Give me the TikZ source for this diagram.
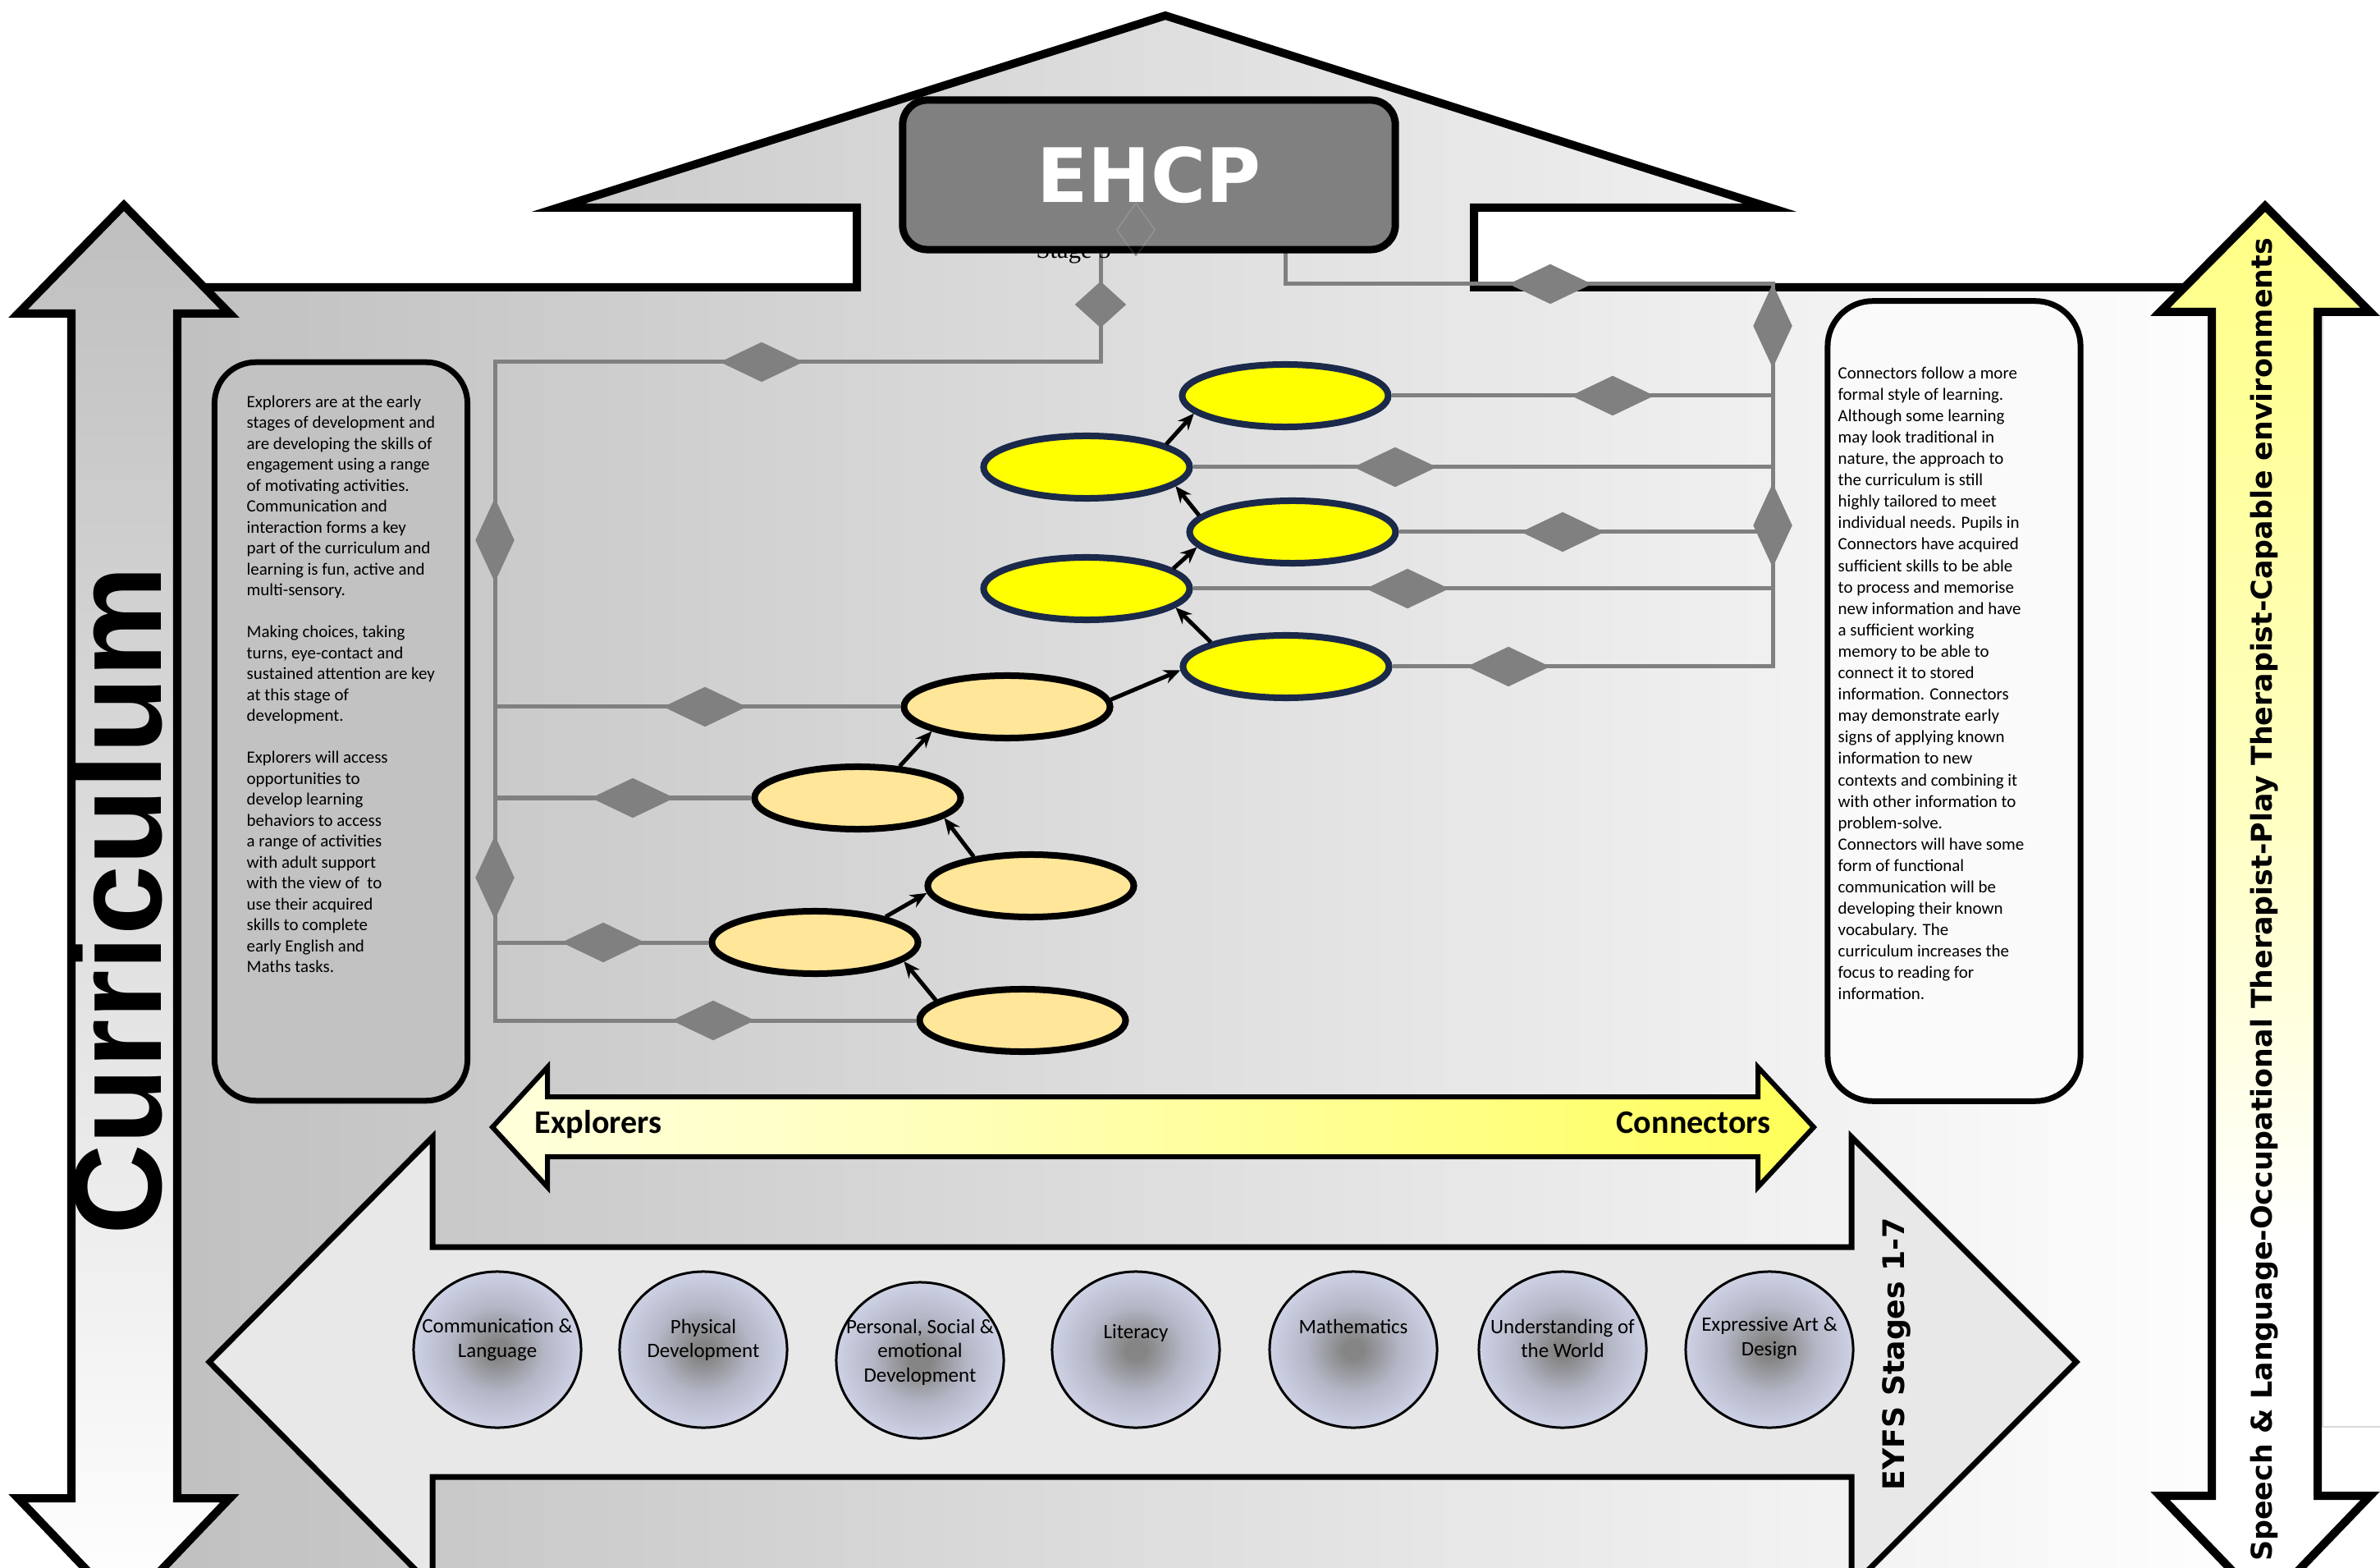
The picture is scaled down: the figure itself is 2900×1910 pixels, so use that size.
\documentclass[tikz,border=0pt]{standalone}
\usepackage{fontspec}
\usetikzlibrary{shapes.geometric,arrows.meta}
\newfontfamily\carl{Carlito}
\newfontfamily\dejavu{DejaVu Sans}
\newfontfamily\libsans{Liberation Sans}
\newfontfamily\libserif{Liberation Serif}
\definecolor{yel}{rgb}{1,1,0}
\definecolor{hgray}{HTML}{BFBFBF}
\definecolor{busgray}{HTML}{808080}
\definecolor{peach}{HTML}{FFE699}
\definecolor{navy}{HTML}{1B2A4A}
\definecolor{orbc}{HTML}{858585}
\definecolor{orbm}{HTML}{B4B7C6}
\definecolor{orbe}{HTML}{D2D6EA}
\definecolor{eyl}{HTML}{E8E8E8}
\definecolor{eym}{HTML}{BDBDBD}
\definecolor{lboxc}{HTML}{C2C2C2}
\definecolor{rboxc}{HTML}{FAFAFA}
\definecolor{ehcpc}{HTML}{808080}
\definecolor{yAA}{rgb}{1,1,0.78}
\definecolor{yBB}{rgb}{1,1,0.5}
\definecolor{yCC}{rgb}{1,1,0.15}
\definecolor{hAA}{rgb}{1,1,0.75}
\definecolor{hCC}{rgb}{1,1,0.22}
\pgfdeclareverticalshading{yelv}{100bp}{color(0bp)=(white); color(38bp)=(white); color(52bp)=(yAA); color(77bp)=(yBB); color(92bp)=(yCC); color(100bp)=(yel)}
\pgfdeclarehorizontalshading{yelh}{100bp}{color(0bp)=(white); color(6bp)=(white); color(40bp)=(hAA); color(63bp)=(yBB); color(85bp)=(hCC); color(100bp)=(yel)}
\pgfdeclareradialshading{orbsh}{\pgfpoint{0bp}{0bp}}{color(0bp)=(orbc); color(3bp)=(orbc); color(14bp)=(orbm); color(27bp)=(orbe); color(50bp)=(orbe)}
\tikzset{
  bus/.style={draw=busgray, line width=0.05cm},
  hd/.style={diamond, fill=busgray, inner sep=0pt, minimum width=1.02cm, minimum height=0.49cm},
  vd/.style={diamond, fill=busgray, inner sep=0pt, minimum width=0.48cm, minimum height=1.03cm},
  pe/.style={ellipse, draw=black, fill=peach, line width=0.08cm, inner sep=0pt, minimum width=2.51cm, minimum height=0.76cm},
  ye/.style={ellipse, draw=navy, fill=yel, line width=0.08cm, inner sep=0pt, minimum width=2.51cm, minimum height=0.76cm},
  arr/.style={draw=black, line width=0.05cm, -{Stealth[length=0.2cm, width=0.17cm]}},
  orb/.style={ellipse, draw=black, line width=0.03cm, shade, shading=orbsh, inner sep=0pt, minimum width=2.04cm, minimum height=1.9cm},
  orbtxt/.style={font=\carl\fontsize{7.1}{8.4}\selectfont, align=center, anchor=north, inner sep=0pt},
  ltxt/.style={font=\carl\fontsize{5.95}{7.25}\selectfont, align=left, anchor=north west, inner sep=0pt},
  rtxt/.style={font=\carl\fontsize{5.95}{7.42}\selectfont, align=left, anchor=north west, inner sep=0pt},
  vtext/.style={rotate=90, anchor=base, inner sep=0pt},
}
\begin{document}
\begin{tikzpicture}[x=0.01cm, y=-0.01cm]
\useasboundingbox (0,0) rectangle (2900,1910);
\clip (0,0) rectangle (2900,1910);

% house
\shadedraw[left color=hgray, right color=white, draw=black, line width=0.1cm, line join=miter]
  (150,350) -- (1044,350) -- (1044,253) -- (680,253) -- (1420,19) -- (2157,253) -- (1796,253)
  -- (1796,350) -- (2760,350) -- (2760,2000) -- (150,2000) -- cycle;
\draw[black!15, line width=0.02cm] (2830,385) -- (2830,1738) -- (2900,1738);

% EYFS double arrow
\shadedraw[left color=eyl, middle color=eym, right color=eyl, draw=black, line width=0.07cm, line join=miter]
  (255,1659) -- (527,1385) -- (527,1519) -- (2256,1519) -- (2256,1385) -- (2530,1659)
  -- (2256,1933) -- (2256,1799) -- (527,1799) -- (527,1933) -- cycle;

\node[orb] (o1) at (606,1644) {};
\node[orb] (o2) at (857,1644) {};
\node[orb] (o3) at (1121,1657) {};
\node[orb] (o4) at (1384,1644) {};
\node[orb] (o5) at (1649,1644) {};
\node[orb] (o6) at (1904,1644) {};
\node[orb] (o7) at (2156,1644) {};
\node[orbtxt] (t1) at (606,1606) {Communication \&\\Language};
\node[orbtxt] (t2) at (857,1606) {Physical\\Development};
\node[orbtxt] (t3) at (1121,1606) {Personal, Social \&\\emotional\\Development};
\node[orbtxt] (t4) at (1384,1613) {Literacy};
\node[orbtxt] (t5) at (1649,1606) {Mathematics};
\node[orbtxt] (t6) at (1904,1606) {Understanding of\\the World};
\node[orbtxt] (t7) at (2156,1604) {Expressive Art \&\\Design};
\node[vtext, font=\dejavu\bfseries\fontsize{10.3}{12}\selectfont] (eyfs) at (2320,1649) {EYFS Stages 1-7};

% Explorers / Connectors arrow
\shadedraw[shading=yelh, draw=black, line width=0.06cm, line join=miter]
  (600,1373) -- (667,1300) -- (667,1336) -- (2142,1336) -- (2142,1300) -- (2210,1373)
  -- (2142,1446) -- (2142,1409) -- (667,1409) -- (667,1446) -- cycle;
\node[font=\carl\bfseries\fontsize{11.4}{13}\selectfont, anchor=base west, inner sep=0pt] (expl) at (651,1380) {Explorers};
\node[font=\carl\bfseries\fontsize{11.4}{13}\selectfont, anchor=base east, inner sep=0pt] (conn) at (2158,1380) {Connectors};

% text boxes
\node[draw=black, fill=lboxc, rounded corners=0.5cm, line width=0.07cm, minimum width=3.08cm, minimum height=8.99cm, inner sep=0pt] (lbox) at (415.5,891) {};
\node[ltxt] (ltext) at (300,481) {Explorers are at the early\\stages of development and\\are developing the skills of\\engagement using a range\\of motivating activities.\\Communication and\\interaction forms a key\\part of the curriculum and\\learning is fun, active and\\multi-sensory.\\[7.25pt]Making choices, taking\\turns, eye-contact and\\sustained attention are key\\at this stage of\\development.\\[7.25pt]Explorers will access\\opportunities to\\develop learning\\behaviors to access\\a range of activities\\with adult support\\with the view of~ to\\use their acquired\\skills to complete\\early English and\\Maths tasks.};
\node[draw=black, fill=rboxc, rounded corners=0.55cm, line width=0.07cm, minimum width=3.08cm, minimum height=9.74cm, inner sep=0pt] (rbox) at (2381,854) {};
\node[rtxt] (rtext) at (2239,446) {Connectors follow a more\\formal style of learning.\\Although some learning\\may look traditional in\\nature, the approach to\\the curriculum is still\\highly tailored to meet\\individual needs. Pupils in\\Connectors have acquired\\sufficient skills to be able\\to process and memorise\\new information and have\\a sufficient working\\memory to be able to\\connect it to stored\\information. Connectors\\may demonstrate early\\signs of applying known\\information to new\\contexts and combining it\\with other information to\\problem-solve.\\Connectors will have some\\form of functional\\communication will be\\developing their known\\vocabulary. The\\curriculum increases the\\focus to reading for\\information.};

% ellipses
\node[pe] (E1) at (1246,1243) {};
\node[pe] (E2) at (993,1148) {};
\node[pe] (E3) at (1256,1079) {};
\node[pe] (E4) at (1045,972) {};
\node[pe] (E5) at (1227,861) {};
\node[ye] (Y1) at (1567,812) {};
\node[ye] (Y2) at (1324,717) {};
\node[ye] (Y3) at (1575,648) {};
\node[ye] (Y4) at (1324,569) {};
\node[ye] (Y5) at (1566,482) {};

% bus coordinates
\coordinate (ltop) at (1341,300);
\coordinate (lt) at (1341,441);
\coordinate (lb) at (603,1243);
\coordinate (rtop) at (1566,300);
\coordinate (rd) at (1566,346);
\coordinate (rt) at (2160,346);

% left bus
\draw[bus] (ltop) -- (lt) -- (lt -| lb) -- (lb) -- (E1.west);
\draw[bus] (E2.west) -- (E2.west -| lb);
\draw[bus] (E4.west) -- (E4.west -| lb);
\draw[bus] (E5.west) -- (E5.west -| lb);
% right bus
\draw[bus] (rtop) -- (rd) -- (rt) -- (Y1.east -| rt) -- (Y1.east);
\draw[bus] (Y2.east) -- (Y2.east -| rt);
\draw[bus] (Y3.east) -- (Y3.east -| rt);
\draw[bus] (Y4.east) -- (Y4.east -| rt);
\draw[bus] (Y5.east) -- (Y5.east -| rt);

% diamonds
\node[diamond, fill=busgray, inner sep=0pt, minimum width=0.63cm, minimum height=0.57cm] (dl0) at (1341,371) {};
\node[hd] (dl1) at (928,441) {};
\node[vd] (dl2) at (603,658) {};
\node[vd] (dl3) at (603,1069) {};
\node[hd] (dl4) at (859,861) {};
\node[hd] (dl5) at (771,972) {};
\node[hd] (dl6) at (735,1148) {};
\node[hd] (dl7) at (869,1243) {};
\node[hd] (dr0) at (1889,346) {};
\node[vd] (dr1) at (2160,397) {};
\node[vd] (dr2) at (2160,640) {};
\node[hd] (dr3) at (1965,482) {};
\node[hd] (dr4) at (1700,569) {};
\node[hd] (dr5) at (1904,648) {};
\node[hd] (dr6) at (1715,717) {};
\node[hd] (dr7) at (1838,812) {};

% progression arrows
\draw[arr] (E1.167) -- (E2.-12);
\draw[arr] (E2.20) -- (E3.184);
\draw[arr] (E3.153) -- (E4.-13);
\draw[arr] (E4.37) -- (E5.198);
\draw[arr] (E5.4) -- (Y1.182);
\draw[arr] (Y1.162) -- (Y2.-12);
\draw[arr] (Y2.13) -- (Y3.189);
\draw[arr] (Y3.170) -- (Y4.-12);
\draw[arr] (Y4.16) -- (Y5.191);

% EHCP
\node[font=\libserif\fontsize{8.7}{10}\selectfont, anchor=base west, inner sep=0pt] (st5) at (1262,315) {Stage 5};
\node[diamond, fill=busgray!90, inner sep=0pt, minimum width=0.47cm, minimum height=0.66cm] (sd) at (1384,280) {};
\node[draw=black, fill=ehcpc, rounded corners=0.3cm, line width=0.09cm, minimum width=6.0cm, minimum height=1.82cm, inner sep=0pt, text=white, font=\dejavu\bfseries\fontsize{26}{30}\selectfont] (ehcp) at (1400,213) {EHCP};
\node[diamond, draw=white, draw opacity=0.12, inner sep=0pt, line width=0.02cm, minimum width=0.47cm, minimum height=0.66cm] (sdf) at (1384,280) {};

% Curriculum arrow
\shadedraw[top color=hgray, bottom color=white, draw=black, line width=0.1cm, line join=miter]
  (151,250) -- (280,382) -- (216,382) -- (216,1825) -- (280,1825) -- (151,1960)
  -- (22,1825) -- (87,1825) -- (87,382) -- (22,382) -- cycle;
\node[vtext, font=\libsans\bfseries\fontsize{43.5}{50}\selectfont] (curr) at (196,1097) {Curriculum};

% therapy arrow
\shadedraw[shading=yelv, draw=black, line width=0.1cm, line join=miter]
  (2760,251) -- (2888,380) -- (2824,380) -- (2824,1822) -- (2888,1822) -- (2760,1955)
  -- (2632,1822) -- (2695,1822) -- (2695,380) -- (2632,380) -- cycle;
\node[vtext, font=\dejavu\bfseries\fontsize{9.9}{11}\selectfont] (slt) at (2768,1096) {Speech \& Language-Occupational Therapist-Play Therapist-Capable environments};
\end{tikzpicture}
\end{document}
